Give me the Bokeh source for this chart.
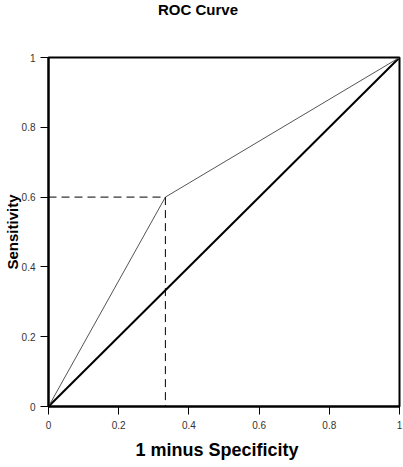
from bokeh.plotting import figure
from bokeh.models import FixedTicker, Range1d, Title, Div
from bokeh.layouts import column
from bokeh.embed import file_html
from bokeh.resources import INLINE

# data
fpr = [0, 0.333, 1]
tpr = [0, 0.6, 1]
chance_x = [0, 1]
chance_y = [0, 1]
cut_x = 0.333
cut_y = 0.6
ticks = [0, 0.2, 0.4, 0.6, 0.8, 1]
tick_labels = ["0", "0.2", "0.4", "0.6", "0.8", "1"]
title_text = "ROC Curve"
x_title = "1 minus Specificity"
y_title = "Sensitivity"

FONT = "Liberation Sans"

title_div = Div(
    text=('<div style="margin:1px 0 0 158px; font-family:\'Liberation Sans\'; '
          'font-size:15px; font-weight:bold; color:black; line-height:17px; '
          'white-space:nowrap;">' + title_text + '</div>'),
    width=403, height=20, margin=(0, 0, 0, 0))

p = figure(width=403, height=447, output_backend="svg", toolbar_location=None,
           x_range=Range1d(0, 1), y_range=Range1d(0, 1),
           min_border_left=48, min_border_right=4, min_border_top=37, min_border_bottom=61,
           background_fill_color="white", border_fill_color="white", margin=(0, 0, 0, 0))

p.grid.visible = False
p.outline_line_color = "black"
p.outline_line_width = 2
p.outline_line_alpha = 1

for ax in (p.xaxis[0], p.yaxis[0]):
    ax.ticker = FixedTicker(ticks=ticks)
    ax.major_label_overrides = {t: l for t, l in zip(ticks, tick_labels)}
    ax.minor_tick_line_color = None
    ax.major_tick_out = 8
    ax.major_tick_in = 0
    ax.major_tick_line_color = "black"
    ax.major_tick_line_width = 1
    ax.axis_line_color = "black"
    ax.axis_line_width = 2
    ax.major_label_text_font = FONT
    ax.major_label_text_font_size = "10px"
    ax.major_label_text_color = "#333333"
    ax.axis_label_text_font = FONT
    ax.axis_label_text_font_style = "bold"
    ax.axis_label_text_color = "black"

p.yaxis.axis_label = y_title
p.yaxis.axis_label_text_font_size = "15px"
p.xaxis.major_label_standoff = 6
p.yaxis.major_label_standoff = 5
p.yaxis.axis_label_standoff = -2

xlabel = Title(text=x_title, align="left", offset=87, standoff=12,
               text_font=FONT, text_font_size="18px", text_font_style="bold",
               text_color="black")
p.add_layout(xlabel, "below")

# chance diagonal
p.line(chance_x, chance_y, line_color="black", line_width=2)
# ROC curve
p.line(fpr, tpr, line_color="#555555", line_width=1)
# cutoff guides
p.line([0, cut_x], [cut_y, cut_y], line_color="black", line_width=1, line_dash="8 5")
p.line([cut_x, cut_x], [cut_y, 0], line_color="black", line_width=1, line_dash="8 5")

layout = column(title_div, p, spacing=0, margin=(0, 0, 0, 0))

open("out.html", "w").write(file_html(layout, INLINE))
